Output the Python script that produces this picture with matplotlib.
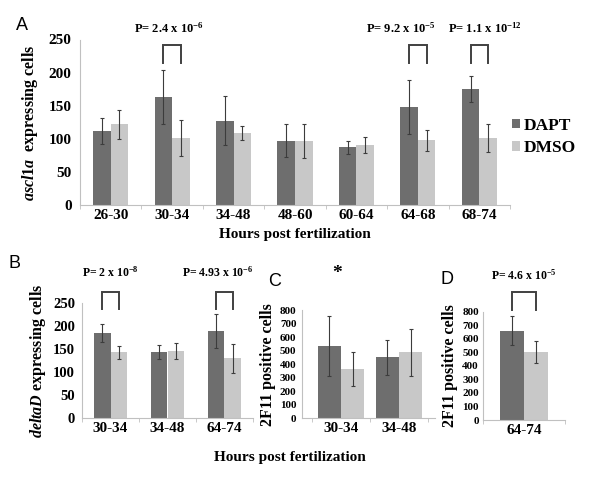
import numpy as np
import matplotlib
matplotlib.use("Agg")
import matplotlib.pyplot as plt

# ---- data ----
a_groups = ["26-30", "30-34", "34-48", "48-60", "60-64", "64-68", "68-74"]
a_dapt = [112, 163, 127, 97, 87, 148, 175]
a_dapt_err = [20, 41, 37, 25, 10, 41, 20]
a_dmso = [122, 101, 109, 97, 91, 98, 101]
a_dmso_err = [22, 27, 11, 26, 12, 16, 21]

b_groups = ["30-34", "34-48", "64-74"]
b_dapt = [184, 143, 189]
b_dapt_err = [20, 15, 37]
b_dmso = [143, 145, 130]
b_dmso_err = [14, 17, 31]

c_groups = ["30-34", "34-48"]
c_dapt = [534, 450]
c_dapt_err = [225, 127]
c_dmso = [364, 487]
c_dmso_err = [127, 175]

d_groups = ["64-74"]
d_dapt = [660]
d_dapt_err = [105]
d_dmso = [500]
d_dmso_err = [80]

DARK = "#6e6e6e"
LIGHT = "#c8c8c8"
EK = dict(ecolor="#3c3c3c", elinewidth=0.8, capsize=1.5, capthick=0.8)
SERIF = "Liberation Serif"

plt.rcParams.update({
    "font.family": SERIF,
    "font.weight": "bold",
    "axes.labelweight": "bold",
    "mathtext.fontset": "custom",
    "mathtext.rm": "Liberation Serif:bold",
    "mathtext.bf": "Liberation Serif:bold",
    "mathtext.it": "Liberation Serif:italic:bold",
})

W, H = 600, 478
fig = plt.figure(figsize=(6.0, 4.78), dpi=100)


def px_axes(l, r, b, t):
    return fig.add_axes([l / W, 1 - b / H, (r - l) / W, (b - t) / H])


def draw(ax, groups, dapt, derr, dmso, merr, w, ytop, xfs, yfs, ypad):
    x = np.arange(len(groups))
    ax.bar(x - w / 2, dapt, w, yerr=derr, color=DARK, error_kw=EK, label="DAPT")
    ax.bar(x + w / 2, dmso, w, yerr=merr, color=LIGHT, error_kw=EK, label="DMSO")
    ax.set_xticks(x, groups)
    ax.set_xticks(np.arange(len(groups) + 1) - 0.5, minor=True)
    ax.tick_params(axis="x", which="major", length=0, labelsize=xfs, pad=3)
    ax.tick_params(axis="x", which="minor", length=3, color="#c0c0c0")
    ax.tick_params(axis="y", length=0, labelsize=yfs, pad=ypad)
    ax.set_ylim(0, ytop)
    for s in ("top", "right"):
        ax.spines[s].set_visible(False)
    for s in ("left", "bottom"):
        ax.spines[s].set_color("#c0c0c0")
        ax.spines[s].set_linewidth(0.8)
    return x


def bracket(ax, x1, x2, y0, y1):
    ax.plot([x1, x1, x2, x2], [y0, y1, y1, y0], color="#404040", lw=1.4,
            clip_on=False, solid_joinstyle="miter")


# ---- panel A ----
axA = px_axes(80, 510, 205, 39.5)
wA = 0.285
xA = draw(axA, a_groups, a_dapt, a_dapt_err, a_dmso, a_dmso_err, wA, 250, 11, 11, 6)
axA.set_xlim(-0.5, 6.5)
axA.set_yticks(range(0, 251, 50))
axA.set_xlabel("Hours post fertilization", fontsize=11, labelpad=4)
axA.set_ylabel(r"$\mathit{ascl1a}$  expressing cells", fontsize=11.5, labelpad=6)
for i, txt, dx in [(1, r"P= 2.4 x 10$^{-6}$", -0.05),
                   (5, r"P= 9.2 x 10$^{-5}$", -0.28),
                   (6, r"P= 1.1 x 10$^{-12}$", 0.1)]:
    bracket(axA, xA[i] - wA / 2, xA[i] + wA / 2, 215, 241)
    axA.text(xA[i] + dx, 267, txt, ha="center", va="center", fontsize=9)
axA.legend(loc="center left", bbox_to_anchor=(505 / W, 1 - 137 / H),
           bbox_transform=fig.transFigure, frameon=False,
           prop={"family": SERIF, "weight": "bold", "size": 12.5},
           handlelength=0.45, handleheight=0.45, handletextpad=0.25,
           labelspacing=0.35, borderaxespad=0)
fig.text(22 / W, 1 - 25 / H, "A", family="Liberation Sans", weight="normal",
         fontsize=13, ha="center", va="center")

# ---- panel B ----
axB = px_axes(82, 253, 418.3, 302.7)
wB = 0.29
xB = draw(axB, b_groups, b_dapt, b_dapt_err, b_dmso, b_dmso_err, wB, 250, 11, 10.5, 5)
axB.set_xlim(-0.5, 2.5)
axB.set_yticks(range(0, 251, 50))
axB.set_ylabel(r"$\mathit{deltaD}$ expressing cells", fontsize=11.5, labelpad=4)
for i, txt, dx in [(0, r"P= 2 x 10$^{-8}$", 0.0),
                   (2, r"P= 4.93 x 10$^{-6}$", -0.12)]:
    bracket(axB, xB[i] - wB / 2, xB[i] + wB / 2, 236, 274)
    axB.text(xB[i] + dx, 316, txt, ha="center", va="center", fontsize=8.5)
fig.text(14 / W, 1 - 263 / H, "B", family="Liberation Sans", weight="normal",
         fontsize=13, ha="center", va="center")
fig.text(290 / W, 1 - 458 / H, "Hours post fertilization", fontsize=11,
         ha="center", va="center", weight="bold")

# ---- panel C ----
axC = px_axes(302, 435, 418.3, 310)
wC = 0.4
xC = draw(axC, c_groups, c_dapt, c_dapt_err, c_dmso, c_dmso_err, wC, 800, 11, 8, 4)
axC.set_xlim(-0.67, 1.62)
axC.set_yticks(range(0, 801, 100))
axC.set_ylabel("2F11 positive cells", fontsize=11.5, labelpad=3)
axC.text(xC[0] - 0.07, 1073, "*", ha="center", va="center", fontsize=14)
fig.text(275 / W, 1 - 282 / H, "C", family="Liberation Sans", weight="normal",
         fontsize=13, ha="center", va="center")

# ---- panel D ----
axD = px_axes(483, 565, 420, 311.7)
wD = 0.287
xD = draw(axD, d_groups, d_dapt, d_dapt_err, d_dmso, d_dmso_err, wD, 800, 11, 8, 3)
axD.set_xlim(-0.5, 0.5)
axD.set_yticks(range(0, 801, 100))
axD.set_ylabel("2F11 positive cells", fontsize=11.5, labelpad=3)
bracket(axD, xD[0] - wD / 2, xD[0] + wD / 2, 812, 948)
axD.text(xD[0], 1071, r"P= 4.6 x 10$^{-5}$", ha="center", va="center", fontsize=8.5)
fig.text(447 / W, 1 - 280 / H, "D", family="Liberation Sans", weight="normal",
         fontsize=13, ha="center", va="center")

fig.savefig("out.png", dpi=100)
